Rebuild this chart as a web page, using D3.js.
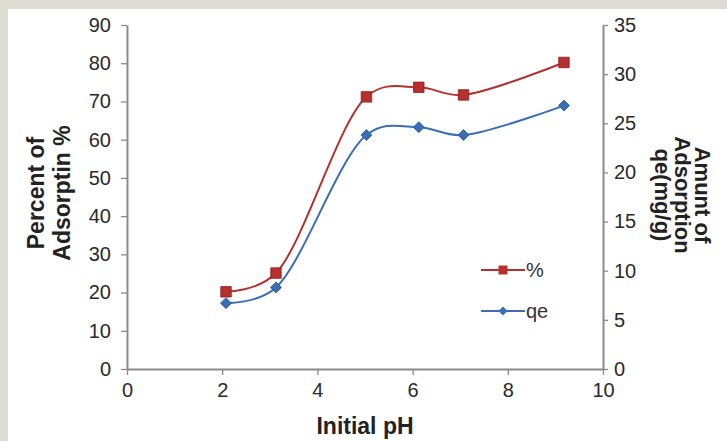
<!DOCTYPE html>
<html><head><meta charset="utf-8">
<script src="https://cdn.jsdelivr.net/npm/d3@7"></script>
<style>
html,body{margin:0;padding:0;background:#dedcd2;}
svg{display:block;}
</style></head><body>
<svg id="c" width="727" height="441"></svg>
<script>
const phValues = [2.08, 3.13, 5.03, 6.13, 7.07, 9.18];
const percentValues = [20.2, 25.1, 71.2, 73.7, 71.7, 80.2];
const qeValues = [6.7, 8.3, 23.8, 24.6, 23.8, 26.8];
const xTicks = [0, 2, 4, 6, 8, 10];
const yLeftTicks = [0, 10, 20, 30, 40, 50, 60, 70, 80, 90];
const yRightTicks = [0, 5, 10, 15, 20, 25, 30, 35];
const seriesNames = ["%", "qe"];

const svg = d3.select("#c");
svg.append("rect").attr("x", 8).attr("y", 9).attr("width", 719).attr("height", 432).attr("fill", "#fff");

const L = 127, R = 603, T = 25, B = 369;
const x = d3.scaleLinear().domain([0, 10]).range([L, R]);
const yL = d3.scaleLinear().domain([0, 90]).range([B, T]);
const yR = d3.scaleLinear().domain([0, 35]).range([B, T]);

const font = "'Liberation Sans',Arial,sans-serif";
const axisColor = "#8a8a8a";

function styleAxis(g) {
  g.select(".domain").attr("stroke", axisColor).attr("stroke-width", 2);
  g.selectAll(".tick line").attr("stroke", axisColor).attr("stroke-width", 1.3);
  g.selectAll(".tick text").attr("fill", "#2a2a2a").style("font-family", font).style("font-size", "20px");
}

const gx = svg.append("g").attr("transform", `translate(0,${B})`)
  .call(d3.axisBottom(x).tickValues(xTicks).tickSize(6).tickSizeOuter(0).tickPadding(8));
styleAxis(gx);

const gl = svg.append("g").attr("transform", `translate(${L},0)`)
  .call(d3.axisLeft(yL).tickValues(yLeftTicks).tickSize(6).tickSizeOuter(0).tickPadding(10));
styleAxis(gl);

const gr = svg.append("g").attr("transform", `translate(${R},0)`)
  .call(d3.axisRight(yR).tickValues(yRightTicks).tickSize(5).tickSizeOuter(0).tickPadding(6));
styleAxis(gr);

// axis titles
svg.append("text").attr("x", (L + R) / 2).attr("y", 434).attr("text-anchor", "middle")
  .style("font-family", font).style("font-weight", "bold").style("font-size", "23px")
  .attr("fill", "#222").text("Initial pH");

const lt = svg.append("text").attr("transform", "translate(44,193) rotate(-90)").attr("text-anchor", "middle")
  .style("font-family", font).style("font-weight", "bold").style("font-size", "23px").attr("fill", "#222");
lt.append("tspan").attr("x", 0).attr("dy", 0).text("Percent of");
lt.append("tspan").attr("x", 0).attr("dy", 26).text("Adsorptin %");

const rt = svg.append("text").attr("transform", "translate(695,195) rotate(90)").attr("text-anchor", "middle")
  .style("font-family", font).style("font-weight", "bold").style("font-size", "22px").attr("fill", "#222");
rt.append("tspan").attr("x", 0).attr("dy", 0).text("Amunt of");
rt.append("tspan").attr("x", 0).attr("dy", 20).text("Adsorption");
rt.append("tspan").attr("x", 0).attr("dy", 20).text("qe(mg/g)");

const red = "#b03232", blue = "#3b6db3";
const line = (ys) => d3.line().curve(d3.curveCatmullRom.alpha(0.35)).x((d, i) => x(phValues[i])).y(d => ys(d));

svg.append("path").datum(percentValues).attr("d", line(yL)).attr("fill", "none").attr("stroke", red).attr("stroke-width", 2);
svg.append("path").datum(qeValues).attr("d", line(yR)).attr("fill", "none").attr("stroke", blue).attr("stroke-width", 2);

const sq = d3.symbol().type(d3.symbolSquare).size(110);
const dm = d3.symbol().type(d3.symbolSquare).size(60);
svg.append("g").selectAll("path").data(percentValues).join("path")
  .attr("d", sq).attr("transform", (d, i) => `translate(${x(phValues[i])},${yL(d)})`)
  .attr("fill", "#b5302e").attr("stroke", "#8e1f1f").attr("stroke-width", 0.8);
svg.append("g").selectAll("path").data(qeValues).join("path")
  .attr("d", dm).attr("transform", (d, i) => `translate(${x(phValues[i])},${yR(d)}) rotate(45)`)
  .attr("fill", "#3b6db3").attr("stroke", "#2c5a99").attr("stroke-width", 0.8);

// legend
const lg = svg.append("g");
const legY = [270, 311];
const legC = [red, blue];
seriesNames.forEach((n, i) => {
  lg.append("line").attr("x1", 481).attr("x2", 525).attr("y1", legY[i]).attr("y2", legY[i]).attr("stroke", legC[i]).attr("stroke-width", 2);
  lg.append("path").attr("d", i === 0 ? d3.symbol().type(d3.symbolSquare).size(80)() : d3.symbol().type(d3.symbolSquare).size(40)())
    .attr("transform", `translate(503,${legY[i]})` + (i === 1 ? " rotate(45)" : ""))
    .attr("fill", i === 0 ? "#b5302e" : "#3b6db3");
  lg.append("text").attr("x", 526).attr("y", legY[i] + 7).style("font-family", font).style("font-size", "20px").attr("fill", "#333").text(n);
});
</script>
</body></html>
